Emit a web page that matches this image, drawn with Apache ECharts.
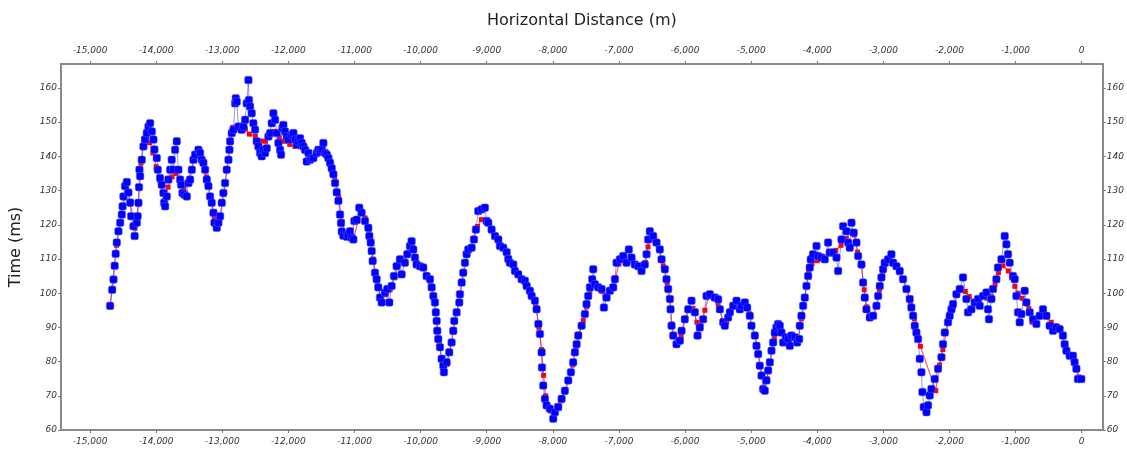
<!DOCTYPE html>
<html>
<head>
<meta charset="utf-8">
<script src="https://cdn.jsdelivr.net/npm/echarts@6/dist/echarts.min.js"></script>
<style>html,body{margin:0;padding:0;background:#fff}#c{width:1127px;height:450px}</style>
</head>
<body>
<div id="c"></div>
<script>
const xTicks = [-15000,-14000,-13000,-12000,-11000,-10000,-9000,-8000,-7000,-6000,-5000,-4000,-3000,-2000,-1000,0];
const yTicks = [60,70,80,90,100,110,120,130,140,150,160];

const blueX = [-14697,-14666,-14646,-14628,-14613,-14596,-14571,-14545,-14520,-14508,-14495,-14470,-14444,-14420,-14394,-14379,-14344,-14326,-14293,-14281,-14268,-14260,-14253,-14243,-14218,-14193,-14168,-14142,-14117,-14092,-14066,-14042,-14027,-13991,-13976,-13941,-13916,-13891,-13880,-13865,-13840,-13815,-13789,-13765,-13740,-13714,-13689,-13664,-13638,-13623,-13603,-13573,-13537,-13512,-13487,-13461,-13437,-13412,-13361,-13336,-13311,-13286,-13260,-13235,-13210,-13185,-13160,-13134,-13119,-13084,-13059,-13033,-13008,-12983,-12958,-12933,-12907,-12892,-12882,-12857,-12832,-12806,-12796,-12781,-12756,-12706,-12680,-12655,-12630,-12605,-12597,-12580,-12555,-12530,-12504,-12479,-12454,-12429,-12404,-12379,-12353,-12328,-12303,-12277,-12252,-12227,-12202,-12176,-12151,-12126,-12111,-12091,-12076,-12051,-12025,-12000,-11949,-11924,-11899,-11874,-11850,-11824,-11799,-11773,-11748,-11723,-11697,-11672,-11647,-11622,-11571,-11547,-11521,-11496,-11471,-11446,-11420,-11395,-11370,-11345,-11320,-11294,-11269,-11244,-11219,-11204,-11193,-11169,-11118,-11098,-11068,-11043,-11017,-11002,-10967,-10928,-10892,-10841,-10791,-10776,-10755,-10740,-10725,-10690,-10665,-10641,-10614,-10589,-10539,-10504,-10474,-10438,-10403,-10363,-10313,-10287,-10237,-10202,-10161,-10136,-10111,-10086,-10061,-10010,-9960,-9909,-9858,-9833,-9808,-9783,-9770,-9757,-9748,-9733,-9707,-9682,-9657,-9647,-9606,-9567,-9531,-9506,-9491,-9455,-9415,-9405,-9379,-9355,-9329,-9304,-9279,-9228,-9193,-9163,-9128,-9077,-9027,-9001,-8976,-8926,-8875,-8825,-8800,-8750,-8698,-8674,-8649,-8598,-8573,-8523,-8472,-8422,-8396,-8346,-8320,-8271,-8245,-8219,-8195,-8169,-8164,-8145,-8119,-8094,-8044,-7994,-7968,-7918,-7867,-7817,-7767,-7726,-7692,-7666,-7640,-7616,-7565,-7515,-7490,-7465,-7439,-7404,-7389,-7363,-7313,-7262,-7227,-7187,-7137,-7086,-7061,-7036,-6985,-6935,-6885,-6850,-6809,-6759,-6708,-6658,-6608,-6582,-6558,-6532,-6482,-6431,-6381,-6355,-6305,-6280,-6255,-6229,-6219,-6204,-6179,-6129,-6078,-6053,-6003,-5952,-5902,-5851,-5811,-5776,-5726,-5675,-5625,-5549,-5499,-5473,-5423,-5398,-5348,-5322,-5272,-5221,-5171,-5146,-5095,-5060,-5020,-4995,-4944,-4919,-4894,-4869,-4843,-4819,-4793,-4768,-4743,-4717,-4692,-4667,-4642,-4617,-4592,-4566,-4541,-4516,-4475,-4441,-4415,-4390,-4339,-4304,-4274,-4264,-4239,-4214,-4188,-4163,-4138,-4113,-4098,-4063,-4011,-3987,-3936,-3886,-3836,-3810,-3760,-3709,-3684,-3633,-3609,-3558,-3533,-3508,-3482,-3447,-3407,-3382,-3331,-3306,-3281,-3256,-3205,-3155,-3104,-3079,-3054,-3029,-3004,-2979,-2928,-2878,-2853,-2802,-2752,-2702,-2651,-2601,-2576,-2550,-2525,-2500,-2475,-2449,-2424,-2409,-2389,-2348,-2324,-2298,-2273,-2223,-2173,-2121,-2097,-2071,-2022,-1996,-1970,-1946,-1895,-1845,-1795,-1744,-1719,-1668,-1618,-1568,-1542,-1492,-1441,-1417,-1402,-1365,-1341,-1290,-1266,-1214,-1164,-1139,-1114,-1089,-1039,-1013,-988,-963,-937,-912,-862,-836,-786,-736,-685,-635,-585,-534,-484,-434,-383,-333,-283,-257,-231,-181,-132,-106,-80,-56,-5];
const blueY = [96.3,101,104,108,111.5,114.8,118.1,120.6,123,125.4,128.3,131.3,132.5,129.4,126.5,122.5,119.6,116.7,120.6,122.5,126.4,131,136.1,134.2,139,142.9,144.9,146.8,148.7,149.7,147.3,144.9,142,139.5,136.1,133.7,131.7,129.3,126.4,125.4,128.3,133.2,136.1,139,136.1,141.9,144.4,136.1,133.2,131.7,129.3,128.8,128.3,132.2,133.2,136.1,139,140.5,141.9,141,139,138.1,136.1,133.2,131.3,128.3,126.4,123.5,120.6,119.1,120.6,122.5,126.4,129.3,132.2,136.1,139,141.9,144.4,146.8,147.8,155.5,157,156,148.7,147.8,148.7,150.7,155.5,162.3,156.5,154.6,152.6,149.7,147.8,144.4,142.9,141,140,141.9,141,142.4,145.8,146.8,149.7,152.6,150.7,146.8,143.9,141.9,140.5,148.3,149.2,147.3,145.8,144.9,146.3,146.8,144.9,143.4,144.4,145.3,143.9,142.9,141.9,138.5,141,139,139.5,139.5,141,141.9,141.4,142,143.9,141,140.5,139.5,138.1,136.5,134.8,132.2,129.5,127,123,120.5,118,116.8,116.5,117.2,118.1,116.2,115.7,121.1,121.5,125,123.5,121.1,119.1,116.7,114.8,112.3,109.4,106,104.1,101.7,98.7,97.3,100.2,101.2,97.3,102.1,105,107.9,109.9,105.5,108.9,111.4,113.8,115.2,112.8,110.4,108.4,107.9,107.5,105,104.1,101.7,99.2,97.3,94.4,91.9,89,86.6,84.2,80.8,78.8,76.9,79.8,82.7,85.6,89,91.9,94.4,97.3,99.7,103.1,106,108.9,111.4,112.8,113.3,115.7,118.6,124,124.5,125,121.1,120.6,118.6,116.7,115.7,113.8,113.3,112,110,108.9,108.4,106.5,105.5,104.1,103.6,102.1,100.7,99.2,97.8,95.3,91,88.1,82.7,78.3,73,69.1,67.2,66.2,63.3,65.2,66.7,69.1,71.5,74.5,76.9,79.8,82.7,85.1,87.6,90.5,93.9,96.8,99.2,101.7,104.1,107,102.6,101.7,101.2,95.8,98.7,100.7,101.7,104.1,108.9,109.9,110.9,108.9,112.8,110.4,108.4,107.9,106.5,108.4,111.4,115.7,118.1,116.7,114.8,112.8,109.9,107,104.1,101.2,98.3,95.3,90.5,87.6,85.1,86.1,89,92.4,95.3,97.8,94.4,87.6,90,92.4,99.2,99.7,98.7,98.2,95.3,91.5,90.5,92.9,94.4,96.3,97.8,95.3,96.3,97.3,95.8,93.4,90.5,87.6,84.6,82.2,78.8,75.9,72,71.5,74.5,77.4,79.8,83.2,85.6,88.5,90,91,90.5,88.5,85.6,87.1,86.6,84.6,87.6,87.1,85.6,86.6,90.5,93.4,96.3,98.7,102.1,105,107.5,109.9,111.4,113.8,110.9,110.4,109.9,114.8,111.9,111.9,110.4,106.5,115.7,119.6,118.1,114.8,113.3,120.6,117.7,114.8,110.9,108.4,103.1,98.7,95.3,92.9,93.4,96.3,99.2,102.1,104.6,107,108.9,109.9,111.4,108.9,107.9,106.5,104.1,101.2,98.3,95.8,93.4,90.5,88.5,86.6,80.8,76.9,71.1,66.7,65.2,67.2,70.1,72,74.9,77.9,81.3,85.1,88.5,91.5,93.4,95.3,96.8,99.7,101.2,104.6,98.3,94.4,95.3,97.3,98.3,96.3,99.2,100.2,95.3,92.4,98.3,101.2,104.1,107.5,109.9,116.7,114.3,111.4,108.9,105,104.1,99.2,94.4,91.5,93.9,100.7,97.3,94.4,92.4,91,93.4,95.3,93.4,90.5,89,90,89.5,87.6,85.1,83.2,81.7,81.7,79.8,77.9,74.9,74.9];

const redX = [-14697,-14600,-14520,-14450,-14390,-14320,-14270,-14230,-14190,-14150,-14100,-14050,-14000,-13950,-13880,-13820,-13760,-13700,-13640,-13580,-13520,-13470,-13420,-13360,-13300,-13240,-13180,-13120,-13080,-13030,-12980,-12930,-12880,-12840,-12780,-12720,-12650,-12590,-12500,-12420,-12350,-12280,-12210,-12140,-12060,-11980,-11900,-11820,-11740,-11660,-11580,-11500,-11430,-11360,-11300,-11240,-11190,-11140,-11060,-11010,-10950,-10900,-10840,-10780,-10720,-10660,-10600,-10530,-10460,-10400,-10330,-10250,-10180,-10120,-10060,-9990,-9920,-9860,-9800,-9760,-9720,-9680,-9640,-9600,-9560,-9510,-9460,-9420,-9370,-9320,-9260,-9200,-9140,-9080,-9000,-8930,-8860,-8800,-8730,-8660,-8590,-8520,-8450,-8380,-8320,-8260,-8210,-8170,-8140,-8110,-8070,-8030,-7990,-7940,-7880,-7820,-7760,-7700,-7650,-7600,-7540,-7490,-7440,-7390,-7330,-7260,-7190,-7120,-7050,-7000,-6940,-6870,-6800,-6730,-6660,-6600,-6560,-6520,-6470,-6400,-6330,-6270,-6230,-6200,-6170,-6120,-6060,-6000,-5940,-5880,-5820,-5760,-5700,-5640,-5570,-5500,-5430,-5370,-5300,-5230,-5160,-5090,-5030,-4990,-4940,-4890,-4840,-4800,-4760,-4710,-4650,-4600,-4540,-4480,-4420,-4350,-4290,-4240,-4190,-4130,-4080,-4000,-3900,-3800,-3720,-3640,-3560,-3500,-3440,-3390,-3330,-3290,-3250,-3210,-3150,-3100,-3060,-3010,-2960,-2900,-2830,-2760,-2700,-2640,-2590,-2530,-2480,-2440,-2207,-2150,-2100,-2050,-2000,-1940,-1880,-1820,-1760,-1700,-1620,-1560,-1490,-1430,-1370,-1310,-1260,-1190,-1110,-1060,-1010,-960,-900,-840,-800,-750,-690,-640,-580,-520,-460,-400,-340,-290,-240,-180,-130,-80,-40,-5];
const redY = [96,114,123,132,126,119,126,138,145,145.5,144,141,137,133,127,131,134,135,133,130.5,132,136,139,140,138.5,134,128,122,119,122,129,136,144,148.5,148,147.5,148,146.5,145.8,144.5,144.4,146,147.3,145.5,144.4,143.5,142.9,142.8,141.5,140,140.5,141.5,141,138,134,128,121,117.5,117,116,121,124,122,118.5,110,103.5,98.5,99.5,101,104.5,108.5,109.5,112,113.5,109,107.5,105.5,103.5,98.5,92,85.5,80.5,78.2,79.2,83,88.5,94,97,103.5,109,113,116,119.5,121.5,120.5,118.3,116.3,114,113,110,108.2,105.5,103.8,101.8,99.5,96.5,90,83.5,76,70,66.5,65.5,65.5,67,68.5,71,74.5,79,84,88,92,96,100.5,103,102,100.5,99.5,101,104.5,108.5,110,109,109.5,108,107.5,109,113.5,117,115.5,113,108,103,98,91,87.5,85.5,87.5,92,95,95.5,91.5,91,95,99,98.5,97,92,91.5,95,96.8,96,96.5,94,90.5,87.5,82.5,76,72,75,80,87,90.5,88.5,86.5,86,86.8,86.5,92.5,98.5,106,108.5,109.5,110.5,111.5,112.5,114,116,118,117,112,108,101,96,93.5,93.5,96,101,105.5,108.5,109.5,108.5,106,104,101,97.5,92.5,87,84.5,71.5,79,83.5,88.5,92.5,96,99.5,101.5,100.5,99,97,97.5,99.5,98.5,99,102.5,106,108,106.5,104.5,102,100,98.5,97,95.5,91.5,91,93,94.5,93,91.5,90.5,89.5,87.5,84,82,80.5,78,75.5,74.9];

const blueData = blueX.map((x, i) => [x, blueY[i]]);
const redData = redX.map((x, i) => [x, redY[i]]);

const labelStyle = { fontStyle: 'italic', fontSize: 9, color: '#333', fontFamily: 'DejaVu Sans' };
const fmt = v => (v < 0 ? '-' : '') + Math.abs(v).toLocaleString('en-US');
const lineStyle = { color: '#8a8a8a', width: 2 };

function xAxisDef(pos, withName) {
  return {
    type: 'value', position: pos, min: -15440, max: 320,
    axisLine: { show: true, onZero: false, lineStyle },
    axisTick: { show: true, length: 3, inside: false, lineStyle: { color: '#777' }, customValues: xTicks },
    axisLabel: Object.assign({ margin: pos === 'top' ? 9 : 7, formatter: fmt, customValues: xTicks }, labelStyle),
    splitLine: { show: false },
    name: withName ? 'Horizontal Distance (m)' : '',
    nameLocation: 'middle', nameGap: 35,
    nameTextStyle: { fontSize: 16, color: '#222', fontFamily: 'DejaVu Sans' }
  };
}
function yAxisDef(pos, withName) {
  return {
    type: 'value', position: pos, min: 60, max: 167,
    axisLine: { show: true, onZero: false, lineStyle },
    axisTick: { show: true, length: 3, inside: false, lineStyle: { color: '#777' }, customValues: yTicks },
    axisLabel: Object.assign({ margin: 4, customValues: yTicks }, labelStyle),
    splitLine: { show: false },
    name: withName ? 'Time (ms)' : '',
    nameLocation: 'middle', nameGap: 37, nameRotate: 90,
    nameTextStyle: { fontSize: 16, color: '#222', fontFamily: 'DejaVu Sans' }
  };
}

const chart = echarts.init(document.getElementById('c'), null, { renderer: 'canvas' });
chart.setOption({
  animation: false,
  backgroundColor: '#fff',
  grid: { left: 61, right: 24, top: 64, bottom: 20, containLabel: false },
  xAxis: [xAxisDef('bottom', false), xAxisDef('top', true)],
  yAxis: [yAxisDef('left', true), yAxisDef('right', false)],
  series: [
    {
      type: 'line', name: 'red', data: redData, xAxisIndex: 0, yAxisIndex: 0,
      symbol: 'rect', symbolSize: 5, showSymbol: true, showAllSymbol: true,
      lineStyle: { color: 'rgba(255,40,40,0.75)', width: 1.2 },
      itemStyle: { color: '#ff0000' }, z: 2
    },
    {
      type: 'line', name: 'blue', data: blueData, xAxisIndex: 0, yAxisIndex: 0,
      symbol: 'roundRect', symbolSize: 7.5, showSymbol: true, showAllSymbol: true,
      lineStyle: { color: 'rgba(60,60,255,0.55)', width: 1 },
      itemStyle: { color: '#0000ff', borderColor: 'rgba(90,90,255,0.5)', borderWidth: 1 }, z: 3
    }
  ]
});
</script>
</body>
</html>
